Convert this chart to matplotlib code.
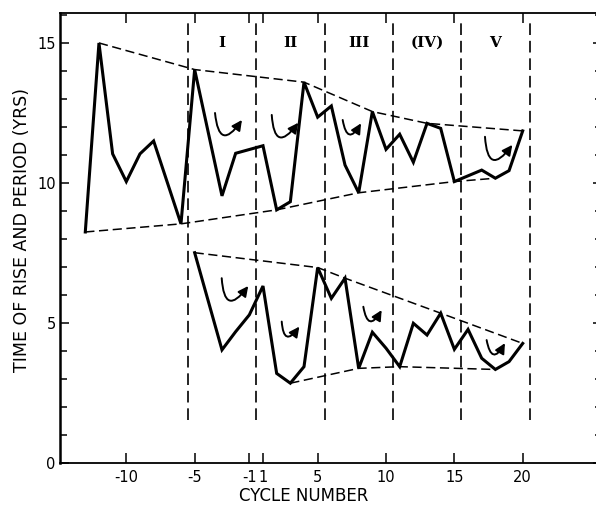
import matplotlib
matplotlib.use("Agg")
import matplotlib.pyplot as plt
from matplotlib.patches import FancyArrowPatch

# solar cycle numbers (there is no cycle 0) and read-off values
period_cycles = [-13, -12, -11, -10, -9, -8, -6, -5, -3, -2, 1, 2, 3, 4, 5, 6, 7,
                 8, 9, 10, 11, 12, 13, 14, 15, 17, 18, 19, 20]
period_values = [8.25, 15.0, 11.04, 10.05, 11.04, 11.5, 8.54, 14.05, 9.54, 11.06,
                 11.33, 9.04, 9.33, 13.6, 12.35, 12.75, 10.64, 9.65, 12.55, 11.2,
                 11.74, 10.74, 12.13, 11.95, 10.05, 10.46, 10.17, 10.44, 11.86]

rise_cycles = [-5, -3, -2, -1, 1, 2, 3, 4, 5, 6, 7, 8, 9, 10, 11, 12, 13, 14, 15,
               16, 17, 18, 19, 20]
rise_values = [7.51, 4.04, 4.69, 5.29, 6.32, 3.2, 2.85, 3.44, 6.98, 5.88, 6.6, 3.38,
               4.67, 4.1, 3.44, 4.99, 4.57, 5.35, 4.06, 4.77, 3.74, 3.34, 3.62, 4.27]

# envelope corners (cycles picked from the curves)
period_env_top = [-12, -5, 4, 9, 13, 20]
period_env_bot = [-13, -6, 2, 8, 15, 18]
rise_env_top = [-5, 5, 7, 14, 20]
rise_env_bot = [3, 8, 11, 18]

region_edges = [-5.5, -0.5, 4.5, 9.5, 14.5, 19.5]   # positions on the axis
region_names = ["I", "II", "III", "(IV)", "V"]

x_tick_cycles = [-10, -5, -1, 1, 5, 10, 15, 20]


def pos(c):
    # cycle -1 is followed directly by cycle 1
    return c if c < 0 else c - 1


def env(cycles, src_c, src_v):
    lookup = dict(zip(src_c, src_v))
    return [pos(c) for c in cycles], [lookup[c] for c in cycles]


plt.rcParams['font.family'] = ['DejaVu Sans']

fig = plt.figure(figsize=(5.96, 5.08), dpi=100)
ax = fig.add_axes([60 / 596, 45 / 508, 542 / 596, 450 / 508])

dash = (6, 3)

# region separators
for e in region_edges:
    ax.plot([e, e], [1.55, 15.8], color="black", lw=1.2, dashes=(7, 3.5))

for i, name in enumerate(region_names):
    mid = (region_edges[i] + region_edges[i + 1]) / 2
    ax.text(mid, 15.0, name, ha="center", va="center", fontsize=11,
            family="DejaVu Serif", fontweight="bold")

# curves
ax.plot([pos(c) for c in period_cycles], period_values, color="black", lw=2.2,
        solid_joinstyle="miter")
ax.plot([pos(c) for c in rise_cycles], rise_values, color="black", lw=2.2,
        solid_joinstyle="miter")

# envelopes
for cyc, sc, sv in [(period_env_top, period_cycles, period_values),
                    (period_env_bot, period_cycles, period_values),
                    (rise_env_top, rise_cycles, rise_values),
                    (rise_env_bot, rise_cycles, rise_values)]:
    ex, ey = env(cyc, sc, sv)
    ax.plot(ex, ey, color="black", lw=1.1, dashes=dash)

# little curved arrows
arrows = [((-3.51, 12.5), (-1.54, 12.25)),
          ((0.64, 12.43), (2.58, 12.15)),
          ((5.83, 12.25), (7.17, 12.13)),
          ((16.24, 11.65), (18.24, 11.36)),
          ((-3.02, 6.6), (-1.08, 6.32)),
          ((1.37, 5.05), (2.66, 4.87)),
          ((7.34, 5.58), (8.68, 5.46)),
          ((16.36, 4.39), (17.7, 4.28))]
for a, b in arrows:
    ax.add_patch(FancyArrowPatch(a, b, connectionstyle="arc3,rad=1.35",
                                 arrowstyle="-|>,head_length=6,head_width=3",
                                 color="black", lw=1.4, shrinkA=0, shrinkB=0))

ax.set_xlim(-14.85, 24.8)
ax.set_ylim(0, 16.07)

ax.set_xticks([pos(c) for c in x_tick_cycles])
ax.set_xticklabels([str(c) for c in x_tick_cycles])
ax.set_yticks([0, 5, 10, 15])
ax.set_yticks(range(0, 17), minor=True)

ax.tick_params(axis="x", which="major", direction="in", length=7.5, width=1.1,
               top=True, labelsize=10.5, pad=5)
ax.tick_params(axis="y", which="major", direction="in", length=6.5, width=1.1,
               right=True, labelsize=10.5, pad=3)
ax.tick_params(axis="y", which="minor", direction="in", length=5, width=1.1,
               right=True)
ax.tick_params(axis="x", which="minor", bottom=False, top=False)

for s in ax.spines.values():
    s.set_linewidth(1.3)
ax.spines["left"].set_linewidth(1.8)

fig.text(304 / 596, 1 - 496 / 508, "CYCLE NUMBER", ha="center", va="center",
         fontsize=12)
fig.text(22 / 596, 1 - 230 / 508, "TIME OF RISE AND PERIOD (YRS)", rotation=90,
         ha="center", va="center", fontsize=12.5)

fig.savefig("out.png", dpi=100)
